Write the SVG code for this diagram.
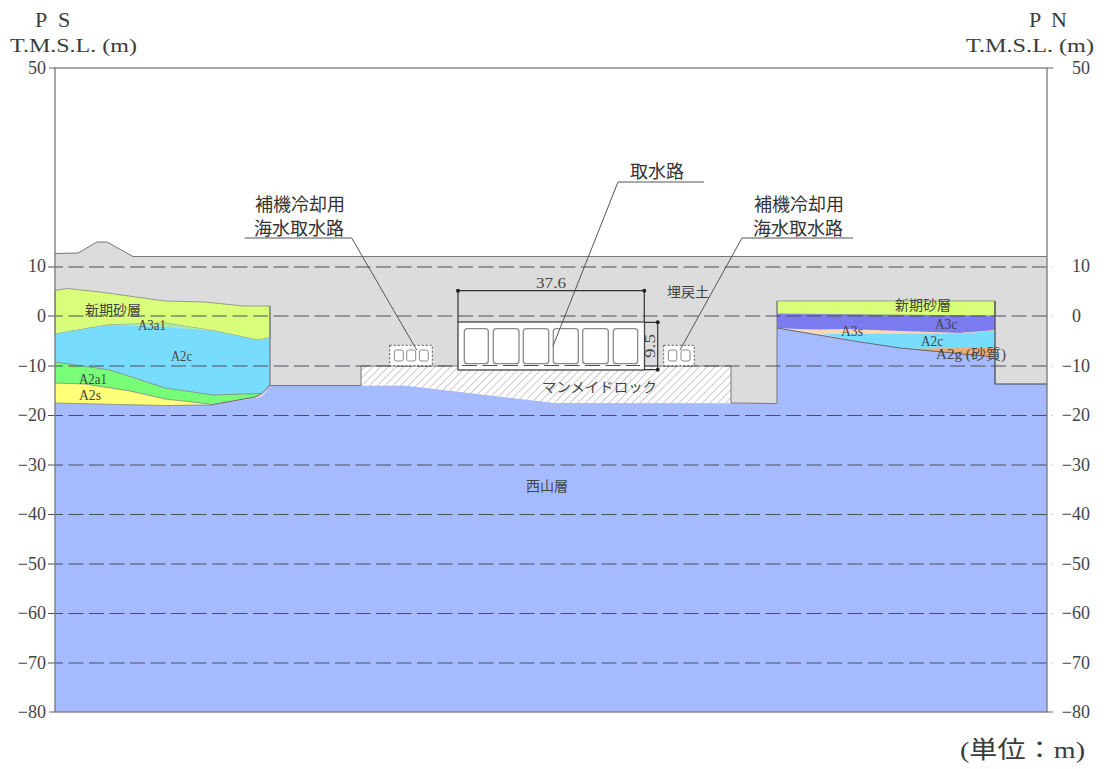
<svg xmlns="http://www.w3.org/2000/svg" width="1104" height="769" viewBox="0 0 1104 769">
<style>
text{font-family:"Liberation Serif","Noto Sans CJK JP",serif;fill:#3c3c3c}
.ax{font-size:18px;fill:#444}
.s{font-size:14px;fill:#444}
.l{font-size:18px;fill:#333}
.b{stroke:#777;stroke-width:1;stroke-opacity:.7}
.g{stroke:#4a4f5a;stroke-width:1.1;stroke-dasharray:15 5.5;fill:none}
.d{stroke:#333;stroke-width:1.2;fill:none}
.c{fill:#fff;stroke:#8a8a8a;stroke-width:1.3}
.cs{fill:#fff;stroke:#8a8a8a;stroke-width:1}
.o{fill:#fff;stroke:#555;stroke-width:1;stroke-dasharray:2 2}
.ld{stroke:#555;stroke-width:1;fill:none}
</style>
<defs>
<pattern id="hatch" width="5.500" height="5.500" patternUnits="userSpaceOnUse" patternTransform="rotate(45)">
<rect width="5.500" height="5.500" fill="#fff"/><line x1="0" y1="0" x2="0" y2="5.500" stroke="#a8a8a8" stroke-width="1.2"/>
</pattern>
</defs>
<rect width="1104" height="769" fill="#fff"/>
<g id="strata">
<polygon id="fill" points="55,253.500 78,253 97,242 107,242 133,256.500 1047,256.500 1047,712 55,712" fill="#dcdcdc"/>
<polygon id="nishiyama" points="55,403 165,405.500 210,405 262,397 270,385.500 405,385.500 555,403 777,403.500 777,328 860,342 900,348 995,357 995,384 1047,384 1047,712 55,712" fill="#a5baff"/>
<polygon id="sand-l" class="b" points="55,290.500 67,288.500 100,292 165,301 205,302 243,306 270,306 270,338 257,340 215,331 165,323 107,325 55,334" fill="#d9ff7a"/>
<polygon id="a3a1" points="107,325 165,323 215,331 165,327" fill="#a8e8b0"/>
<polygon id="a2c-l" points="55,334 107,325 165,327 215,331 257,340 270,338 270,385 262,393.500 213,395 165,388 110,370 55,362" fill="#78dcff"/>
<polygon id="a2a1" points="55,362 110,370 165,388 213,395 262,393.500 255,397 210,404 165,399 130,391 85,384 55,383" fill="#78ff78"/>
<polygon id="a2s" points="55,383 85,384 130,391 165,399 210,404 165,405.500 55,403" fill="#ffff78"/>
<polyline fill="none" class="b" points="55,362 110,370 165,388 213,395 262,393.500"/>
<polyline fill="none" class="b" points="55,383 85,384 130,391 165,399 210,404"/>
<polyline fill="none" class="b" points="55,403 165,405.500 210,405"/>
<polyline fill="none" stroke="#666" points="270,306 270,385 262,393.500 255,397 210,405"/>
<polygon id="rock" points="361,366 731,366 731,403 555,403 405,385.500 361,385.500" fill="url(#hatch)"/>
<polygon id="sand-r" class="b" points="777,301 995,301 995,316 777,314" fill="#d9ff7a"/>
<polygon id="a3c" points="777,314 995,316 995,331 960,333 845,331 777,328" fill="#7b7bf0"/>
<polygon id="a3s" points="790,330 845,329 960,333 995,330 995,331 960,333.500 823,334" fill="#ffd8b0"/>
<polygon id="a2c-r" points="823,334 960,333.500 995,331 995,348 905,349 860,342" fill="#78dcff"/>
<polygon id="a2g" points="905,349 995,347.500 995,357" fill="#f0aa70"/>
<polyline stroke="#777" fill="none" points="55,253.500 78,253 97,242 107,242 133,256.500 1047,256.500"/>
<polyline stroke="#777" fill="none" points="270,385.500 361,385.500 361,366 731,366 731,403 777,403.500 777,301"/>
<polyline stroke="#667" fill="none" points="777,328 860,342 900,348 995,357"/>
<polyline fill="none" stroke="#444" stroke-width="1.200" points="995,301 995,384 1047,384"/>
</g>
<g id="grid">
<path class="g" d="M48 267H1053M48 316H1053M48 366H1053M48 415.500H1053M48 465H1053M48 514.500H1053M48 564H1053M48 613.500H1053M48 663H1053"/>
<rect x="55" y="68" width="992" height="644" fill="none" stroke="#777" stroke-width="1.300"/>
<path d="M49 68H55M1047 68H1053M49 712H55M1047 712H1053" stroke="#666" stroke-width="1.200"/>
</g>
<g id="culvert-main">
<rect x="458" y="322" width="186.500" height="48" fill="#fff" stroke="#444" stroke-width="1.300"/>
<path d="M462 365.500H640" class="g" stroke-dasharray="8 3"/>
<rect class="c" x="464.300" y="328.700" width="24" height="35" rx="3"/>
<rect class="c" x="493.300" y="328.700" width="25.700" height="35" rx="3"/>
<rect class="c" x="523.300" y="328.700" width="25.400" height="35" rx="3"/>
<rect class="c" x="553.300" y="328.700" width="25" height="35" rx="3"/>
<rect class="c" x="582.700" y="328.700" width="25.600" height="35" rx="3"/>
<rect class="c" x="613.300" y="328.700" width="24.400" height="35" rx="3"/>
</g>
<g id="culvert-left">
<rect class="o" x="389.700" y="345.300" width="42.600" height="20.400"/>
<rect class="cs" x="394.300" y="350" width="9" height="11" rx="2"/>
<rect class="cs" x="406.700" y="350" width="9" height="11" rx="2"/>
<rect class="cs" x="419.300" y="350" width="9" height="11" rx="2"/>
</g>
<g id="culvert-right">
<rect class="o" x="663.700" y="345.300" width="30.600" height="20.400"/>
<rect class="cs" x="668.300" y="350" width="8.500" height="11" rx="2"/>
<rect class="cs" x="681" y="350" width="9" height="11" rx="2"/>
</g>
<g id="dimensions">
<path class="d" d="M458 322V290.700H644.300V322M644.300 322.300H657.700V369.700H644.300"/>
<g fill="#222"><circle cx="458" cy="290.700" r="2"/><circle cx="644.300" cy="290.700" r="2"/><circle cx="657.700" cy="322.300" r="2"/><circle cx="657.700" cy="369.700" r="2"/></g>
<text class="s" x="536" y="288" textLength="30" lengthAdjust="spacingAndGlyphs">37.6</text>
<text class="s" transform="translate(655,358) rotate(-90)" textLength="24" lengthAdjust="spacingAndGlyphs">9.5</text>
</g>
<g id="connectors">
<path class="ld" d="M244.700 238H351.700L416.700 350"/>
<path class="ld" d="M704 182H618L553 346"/>
<path class="ld" d="M853 238H742L680 350"/>
</g>
<g id="labels">
<text x="35 58" y="27" style="font-size:22px">PS</text>
<text x="10" y="52" style="font-size:18px" textLength="127" lengthAdjust="spacingAndGlyphs">T.M.S.L. (m)</text>
<text x="1029 1051" y="27" style="font-size:22px">PN</text>
<text x="966" y="52" style="font-size:18px" textLength="128" lengthAdjust="spacingAndGlyphs">T.M.S.L. (m)</text>
<text x="960" y="758" style="font-size:24px" textLength="125" lengthAdjust="spacingAndGlyphs">(単位：m)</text>
<text class="ax" x="46" y="74" text-anchor="end">50</text>
<text class="ax" x="46" y="272" text-anchor="end">10</text>
<text class="ax" x="46" y="322" text-anchor="end">0</text>
<text class="ax" x="46" y="372" text-anchor="end">−10</text>
<text class="ax" x="46" y="421" text-anchor="end">−20</text>
<text class="ax" x="46" y="471" text-anchor="end">−30</text>
<text class="ax" x="46" y="520" text-anchor="end">−40</text>
<text class="ax" x="46" y="570" text-anchor="end">−50</text>
<text class="ax" x="46" y="619" text-anchor="end">−60</text>
<text class="ax" x="46" y="669" text-anchor="end">−70</text>
<text class="ax" x="46" y="718" text-anchor="end">−80</text>
<text class="ax" x="1072" y="74">50</text>
<text class="ax" x="1072" y="272">10</text>
<text class="ax" x="1072" y="322">0</text>
<text class="ax" x="1090" y="372" text-anchor="end">−10</text>
<text class="ax" x="1090" y="421" text-anchor="end">−20</text>
<text class="ax" x="1090" y="471" text-anchor="end">−30</text>
<text class="ax" x="1090" y="520" text-anchor="end">−40</text>
<text class="ax" x="1090" y="570" text-anchor="end">−50</text>
<text class="ax" x="1090" y="619" text-anchor="end">−60</text>
<text class="ax" x="1090" y="669" text-anchor="end">−70</text>
<text class="ax" x="1090" y="718" text-anchor="end">−80</text>
<text class="l" x="255" y="211">補機冷却用</text>
<text class="l" x="254" y="235">海水取水路</text>
<text class="l" x="754" y="211">補機冷却用</text>
<text class="l" x="753" y="235">海水取水路</text>
<text class="l" x="630" y="178">取水路</text>
<text class="s" x="85" y="315">新期砂層</text>
<text class="s" x="138" y="330" textLength="28" lengthAdjust="spacingAndGlyphs">A3a1</text>
<text class="s" x="171" y="361" textLength="21" lengthAdjust="spacingAndGlyphs">A2c</text>
<text class="s" x="79" y="384" textLength="28" lengthAdjust="spacingAndGlyphs">A2a1</text>
<text class="s" x="79" y="400" textLength="22" lengthAdjust="spacingAndGlyphs">A2s</text>
<text class="s" x="667" y="297">埋戻土</text>
<text class="s" x="542" y="392" textLength="115" lengthAdjust="spacingAndGlyphs">マンメイドロック</text>
<text class="s" x="526" y="491">西山層</text>
<text class="s" x="895" y="310">新期砂層</text>
<text class="s" x="935" y="329" textLength="22" lengthAdjust="spacingAndGlyphs">A3c</text>
<text class="s" x="841" y="336" textLength="22" lengthAdjust="spacingAndGlyphs">A3s</text>
<text class="s" x="921" y="346" textLength="22" lengthAdjust="spacingAndGlyphs">A2c</text>
<text class="s" x="936" y="359" textLength="70" lengthAdjust="spacingAndGlyphs">A2g (砂質)</text>
</g>
</svg>
